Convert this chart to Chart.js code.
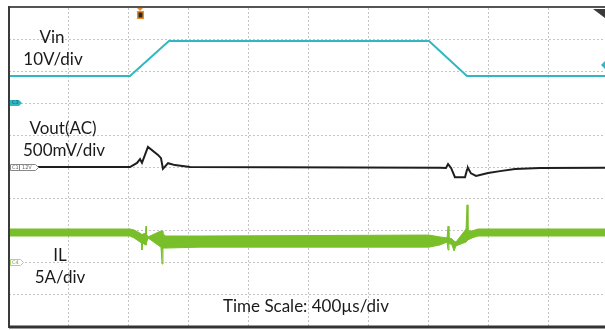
<!DOCTYPE html>
<html>
<head>
<meta charset="utf-8">
<script src="https://cdn.jsdelivr.net/npm/chart.js@4.4.0/dist/chart.umd.min.js"></script>
<style>
  html, body { margin: 0; padding: 0; background: #fff; overflow: hidden; }
  #wrap { width: 605px; height: 330px; }
</style>
</head>
<body>
<div id="wrap"><canvas id="scope"></canvas></div>
<script>
// time in microseconds (400 us/div), level in screen divisions (0 = bottom, 10 = top)
const vinTime = [0, 808, 1068, 2805, 3058, 3980];
const vinLevel = [7.86, 7.86, 8.96, 8.96, 7.86, 7.86];

const voutTime = [0, 808, 855, 875, 888, 928, 995, 1015, 1028, 1062, 1108, 1209,
  2878, 2918, 2932, 2952, 2978, 3045, 3059, 3065, 3085, 3119, 3199, 3279, 3379, 3546, 3980];
const voutLevel = [5.0, 5.0, 5.13, 5.25, 5.13, 5.63, 5.38, 5.28, 4.94, 5.12, 5.06, 5.0,
  4.98, 4.97, 5.09, 4.97, 4.68, 4.68, 4.92, 4.97, 4.8, 4.72, 4.81, 4.87, 4.94, 4.97, 4.98];

// inductor current is a thick ripple band: upper and lower envelope
const ilTime = [0, 808, 835, 875, 885, 888, 892, 912, 915, 918, 928, 1015, 1022, 1028, 1042, 1275,
  2805, 2878, 2925, 2932, 2938, 2958, 2972, 2985, 3052, 3059, 3065, 3092, 3132, 3980];
const ilUpper = [3.05, 3.05, 3.02, 2.92, 2.89, 2.86, 2.89, 2.92, 3.14, 2.89, 2.80, 2.99, 2.99, 2.92, 2.83, 2.83,
  2.86, 2.80, 2.77, 3.14, 2.77, 2.74, 2.67, 2.64, 3.05, 3.81, 2.99, 2.99, 3.05, 3.05];
const ilLower = [2.83, 2.83, 2.77, 2.64, 2.61, 2.39, 2.61, 2.55, 2.55, 2.61, 2.77, 2.48, 1.95, 2.45, 2.45, 2.48,
  2.48, 2.55, 2.64, 2.39, 2.61, 2.55, 2.36, 2.52, 2.64, 2.70, 2.70, 2.77, 2.83, 2.83];

const timeTicks = [400, 800, 1200, 1600, 2000, 2400, 2800, 3200, 3600];
const divTicks = [1, 2, 3, 4, 5, 6, 7, 8, 9];

const vinText = ["Vin", "10V/div"];
const voutText = ["Vout(AC)", "500mV/div"];
const ilText = ["IL", "5A/div"];
const timeText = "Time Scale: 400\u00b5s/div";

const CYAN = "#2fb8c3";
const GREEN = "#79bf2a";

function pts(xs, ys) {
  return xs.map((x, i) => ({ x: x, y: ys[i] }));
}

const scopeDecor = {
  id: "scopeDecor",
  afterDatasetsDraw(chart) {
    const ctx = chart.ctx;
    const a = chart.chartArea;
    ctx.save();
    // frame
    ctx.strokeStyle = "#555";
    ctx.lineWidth = 2;
    ctx.beginPath();
    ctx.moveTo(a.left, a.top - 1);
    ctx.lineTo(a.right, a.top - 1);
    ctx.stroke();
    ctx.strokeStyle = "#3a3a3a";
    ctx.beginPath();
    ctx.moveTo(a.left, a.top - 2);
    ctx.lineTo(a.left, a.bottom + 2);
    ctx.stroke();
    ctx.lineWidth = 3;
    ctx.strokeStyle = "#333";
    ctx.beginPath();
    ctx.moveTo(a.left, a.bottom + 1);
    ctx.lineTo(a.right, a.bottom + 1);
    ctx.stroke();
    ctx.restore();
  },
  afterDraw(chart) {
    const ctx = chart.ctx;
    ctx.save();

    // channel labels
    ctx.fillStyle = "#1a1a1a";
    ctx.font = "17px Lato";
    ctx.textAlign = "center";
    ctx.textBaseline = "alphabetic";
    ctx.fillText(vinText[0], 52, 43);
    ctx.fillText(vinText[1], 53, 65);
    ctx.fillText(voutText[0], 63, 134);
    ctx.fillText(voutText[1], 64, 156);
    ctx.fillText(ilText[0], 60, 261);
    ctx.fillText(ilText[1], 60, 283);
    ctx.textAlign = "left";
    ctx.fillText(timeText, 223, 312);

    // channel offset tags
    ctx.font = "5px 'DejaVu Sans'";
    ctx.textBaseline = "middle";
    // Vin tag
    ctx.fillStyle = CYAN;
    ctx.beginPath();
    ctx.moveTo(10, 100); ctx.lineTo(19, 100); ctx.lineTo(22, 103);
    ctx.lineTo(19, 106); ctx.lineTo(10, 106); ctx.closePath();
    ctx.fill();
    ctx.fillStyle = "#135a60";
    ctx.fillText("C3", 12, 103);
    // Vout tag
    ctx.fillStyle = "#fff";
    ctx.strokeStyle = "#888";
    ctx.lineWidth = 1;
    ctx.beginPath();
    ctx.moveTo(10.5, 164.5); ctx.lineTo(35.5, 164.5); ctx.lineTo(38.5, 167.5);
    ctx.lineTo(35.5, 170.5); ctx.lineTo(10.5, 170.5); ctx.closePath();
    ctx.fill(); ctx.stroke();
    ctx.beginPath(); ctx.moveTo(19.5, 164.5); ctx.lineTo(19.5, 170.5); ctx.stroke();
    ctx.fillStyle = "#666";
    ctx.fillText("C1", 12, 167.5);
    ctx.fillText("12V", 22, 167.5);
    // IL tag
    ctx.fillStyle = "#fff";
    ctx.strokeStyle = "#a9d77a";
    ctx.beginPath();
    ctx.moveTo(10.5, 259.5); ctx.lineTo(20.5, 259.5); ctx.lineTo(23.5, 262.5);
    ctx.lineTo(20.5, 265.5); ctx.lineTo(10.5, 265.5); ctx.closePath();
    ctx.fill(); ctx.stroke();
    ctx.fillStyle = "#7aa850";
    ctx.fillText("C4", 12, 262.5);

    // trigger position marker
    ctx.fillStyle = "#f08a1c";
    ctx.beginPath();
    ctx.moveTo(137, 8); ctx.lineTo(143, 8); ctx.lineTo(140, 11); ctx.closePath();
    ctx.fill();
    ctx.fillRect(137, 11, 7, 8);
    ctx.fillStyle = "#2a2a2a";
    ctx.fillRect(138.5, 12.5, 4, 5);

    // trigger level marker
    ctx.fillStyle = CYAN;
    ctx.beginPath();
    ctx.moveTo(605, 61); ctx.lineTo(601, 65); ctx.lineTo(605, 69); ctx.closePath();
    ctx.fill();

    // corner triangle
    ctx.fillStyle = "#3a3a3a";
    ctx.beginPath();
    ctx.moveTo(593, 9); ctx.lineTo(605, 9); ctx.lineTo(605, 18); ctx.closePath();
    ctx.fill();

    ctx.restore();
  }
};

const gridStyle = {
  color: "#c4c4c4",
  lineWidth: 1,
  drawTicks: false
};

new Chart(document.getElementById("scope"), {
  type: "line",
  data: {
    datasets: [
      {
        label: "IL upper",
        data: pts(ilTime, ilUpper),
        borderColor: GREEN,
        backgroundColor: GREEN,
        borderWidth: 1,
        fill: "+1"
      },
      {
        label: "IL lower",
        data: pts(ilTime, ilLower),
        borderColor: GREEN,
        backgroundColor: GREEN,
        borderWidth: 1,
        fill: false
      },
      {
        label: "Vout",
        data: pts(voutTime, voutLevel),
        borderColor: "#1e1e1e",
        borderWidth: 2,
        fill: false
      },
      {
        label: "Vin",
        data: pts(vinTime, vinLevel),
        borderColor: CYAN,
        borderWidth: 2,
        fill: false
      }
    ]
  },
  options: {
    responsive: true,
    maintainAspectRatio: false,
    animation: false,
    layout: { padding: { left: 9, top: 8, right: 0, bottom: 4 } },
    elements: {
      point: { radius: 0, hoverRadius: 0 },
      line: { tension: 0 }
    },
    plugins: {
      legend: { display: false },
      tooltip: { enabled: false },
      filler: { propagate: false }
    },
    scales: {
      x: {
        type: "linear",
        min: 0,
        max: 3980,
        afterBuildTicks: (scale) => { scale.ticks = timeTicks.map((v) => ({ value: v })); },
        ticks: { display: false },
        grid: { ...gridStyle },
        border: { display: false, dash: [2, 2] }
      },
      y: {
        type: "linear",
        min: 0,
        max: 10,
        afterBuildTicks: (scale) => { scale.ticks = divTicks.map((v) => ({ value: v })); },
        ticks: { display: false },
        grid: { ...gridStyle },
        border: { display: false, dash: [2, 2] }
      }
    }
  },
  plugins: [scopeDecor]
});
</script>
</body>
</html>
